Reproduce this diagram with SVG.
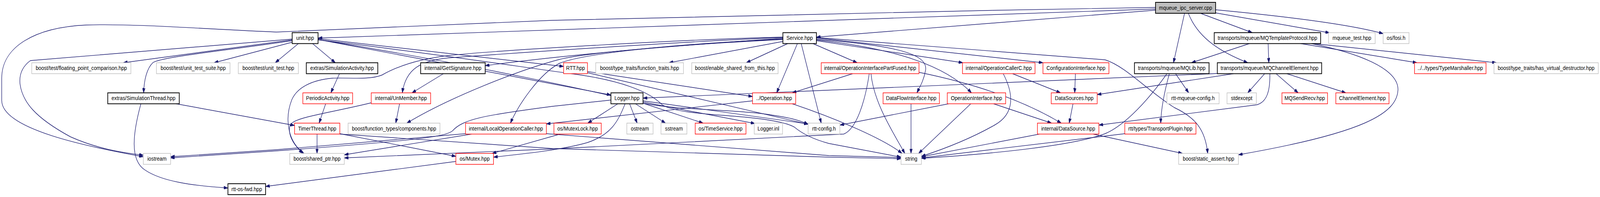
<svg xmlns="http://www.w3.org/2000/svg" width="4633" height="504" viewBox="0 0 4633 504" preserveAspectRatio="none">
<style>
svg{width:100vw;height:100vh}
.e{fill:none;stroke:#191970;stroke-width:1.4;marker-end:url(#ah)}
rect{fill:#fff;stroke-width:1.5}
.k rect{stroke:#000;stroke-width:2}
.g rect{stroke:#bfbfbf}
.r rect{stroke:#ff0000}
.root rect{fill:#bfbfbf;stroke:#000;stroke-width:2}
text{font-family:"Liberation Sans",Arial,Helvetica,sans-serif;font-size:14.5px;text-anchor:middle;fill:#000}
</style>
<defs>
<marker id="ah" markerUnits="userSpaceOnUse" markerWidth="12" markerHeight="8" refX="12" refY="4" orient="auto">
<path d="M0,0 L12,4 L0,8 z" fill="#191970" stroke="#191970" stroke-width="1"/>
</marker>
</defs>
<rect x="0" y="0" width="4633" height="504" style="fill:#fff;stroke:none"/>
<g id="edges">
<path class="e" d="M3346,19 C2700,28 1900,45 1600,52 C1300,63 1000,75 800,82 C600,75 400,60 250,64 C100,70 5,120 5,200 L5,257 C5,330 250,375 415,401"/>
<path class="e" d="M3346,23 L921,97.5"/>
<path class="e" d="M3346,26 L2364,95"/>
<path class="e" d="M3430,34 L3398,160.5"/>
<path class="e" d="M3441,34 C3470,100 3540,135 3613,160.5"/>
<path class="e" d="M3476,34 L3626,83.5"/>
<path class="e" d="M3520,33 L3850,84"/>
<path class="e" d="M3520,25 C3700,40 3900,60 4005,86"/>
<path class="e" d="M846,102 L357,160.5"/>
<path class="e" d="M846,108 L620,160.5"/>
<path class="e" d="M864,111.5 L797,160.5"/>
<path class="e" d="M905,111.5 L971,160.5"/>
<path class="e" d="M846,104 C650,130 470,145 443,160 C425,175 417,205 416,237.5"/>
<path class="e" d="M846,100 L88,155 C65,170 55,190 58,215 C65,260 100,300 204,350 C280,380 350,390 415,397"/>
<path class="e" d="M921,99 L1632,170"/>
<path class="e" d="M921,101 L1769,243"/>
<path class="e" d="M921,102 C1200,130 1500,170 1650,188 C1800,205 1880,235 1916,267 C1950,290 2080,293 2161,300 C2230,306 2280,315 2300,325 C2320,340 2350,355 2400,367 L2609,402"/>
<path class="e" d="M921,101 C1400,170 1750,240 1862,264 C1950,280 2100,280 2200,290 C2270,298 2310,305 2340,318"/>
<path class="e" d="M1701,186 L2340,318"/>
<path class="e" d="M1701,183 L2179,247"/>
<path class="e" d="M1823,265.5 L1845,315"/>
<path class="e" d="M1840,265.5 L1927,315"/>
<path class="e" d="M1789,265.5 L1702,315"/>
<path class="e" d="M1862,264 L2036,315"/>
<path class="e" d="M1862,261 L2186,316"/>
<path class="e" d="M1862,258 L2340,317"/>
<path class="e" d="M1769,256 L1600,272 C1400,295 1340,305 1310,335 C1290,350 1200,360 800,386 L494,404"/>
<path class="e" d="M1810,265.5 C1790,310 1770,345 1700,365 C1620,385 1500,395 1429,402"/>
<path class="e" d="M2517,188.5 C2505,260 2480,330 2443,343 L1600,381 L997,404"/>
<path class="e" d="M918,343 L918,392.5"/>
<path class="e" d="M984,342 L1320,400"/>
<path class="e" d="M984,343 L1600,380 L2400,402 L2609,406"/>
<path class="e" d="M943,265.5 L924,315"/>
<path class="e" d="M983,188.5 L958,237.5"/>
<path class="e" d="M510,265.5 L853,321"/>
<path class="e" d="M408,265.5 C385,340 375,410 420,435 C470,465 560,475 660,481"/>
<path class="e" d="M1320,413 L769,477"/>
<path class="e" d="M1622,343 L1425,392.5"/>
<path class="e" d="M1284,188.5 L1193,237.5"/>
<path class="e" d="M1157,265.5 L1146,315"/>
<path class="e" d="M1075,263 C950,290 850,300 840,320 C832,345 850,370 877,392.5"/>
<path class="e" d="M2267,95 C2000,100 1450,128 1300,142 C1200,152 1140,175 1106,192 C1070,205 1010,198 963,200 C900,205 860,225 845,255 C825,300 830,360 880,392.5"/>
<path class="e" d="M2267,96 C2000,105 1500,135 1300,148 C1220,155 1175,175 1165,237.5"/>
<path class="e" d="M2267,98 C1900,120 1600,145 1405,168"/>
<path class="e" d="M2267,100 C1900,115 1680,140 1620,162 C1560,190 1500,270 1478,315"/>
<path class="e" d="M2267,101 C1950,115 1700,135 1620,152 C1500,180 1300,250 1178,315"/>
<path class="e" d="M2267,106 L1937,160.5"/>
<path class="e" d="M2281,111.5 L2161,160.5"/>
<path class="e" d="M2309,111.5 L2249,237.5"/>
<path class="e" d="M2320,111.5 L2378,315"/>
<path class="e" d="M2354,111.5 L2482,160.5"/>
<path class="e" d="M2364,100 C2550,115 2690,130 2680,180 C2675,205 2665,220 2655,237.5"/>
<path class="e" d="M2364,102 C2600,125 2740,170 2813,237.5"/>
<path class="e" d="M2364,104 L2788,160.5"/>
<path class="e" d="M2364,97 L3020,160.5"/>
<path class="e" d="M2364,96 L3200,153 C3260,170 3320,230 3400,275 C3460,300 3490,330 3497,392.5"/>
<path class="e" d="M1366,343 L997,396"/>
<path class="e" d="M1348,342 L800,383 L494,401"/>
<path class="e" d="M1582,342 L2400,398 L2609,403"/>
<path class="e" d="M2179,258 L1582,317"/>
<path class="e" d="M2294,265.5 C2400,297 2550,350 2612,392.5"/>
<path class="e" d="M2469,188.5 L2294,237.5"/>
<path class="e" d="M2522,188.5 C2530,260 2580,330 2620,392.5"/>
<path class="e" d="M2661,185 C2800,210 2950,250 3073,315"/>
<path class="e" d="M2638,265.5 L2638,392.5"/>
<path class="e" d="M2747,265.5 L2432,320"/>
<path class="e" d="M2811,265.5 L2660,392.5"/>
<path class="e" d="M2877,265.5 L3045,315"/>
<path class="e" d="M2932,188.5 L3071,237.5"/>
<path class="e" d="M2905,188.5 C2935,240 2940,290 2880,320 C2800,360 2720,385 2668,400"/>
<path class="e" d="M3114,188.5 L3112,237.5"/>
<path class="e" d="M3107,265.5 L3096,315"/>
<path class="e" d="M3010,343 L2668,401"/>
<path class="e" d="M3165,343 L3424,392.5"/>
<path class="e" d="M3525,188 L1862,251"/>
<path class="e" d="M3572,188.5 L3177,242"/>
<path class="e" d="M3677,188.5 C3678,230 3670,260 3640,268 L3182,320"/>
<path class="e" d="M3662,188.5 L3613,237.5"/>
<path class="e" d="M3695,188.5 L3759,237.5"/>
<path class="e" d="M3726,188.5 L3897,237.5"/>
<path class="e" d="M3404,188.5 L3442,237.5"/>
<path class="e" d="M3386,188.5 C3370,240 3362,280 3361,315"/>
<path class="e" d="M3379,188.5 C3330,250 3260,320 3200,342 C3100,375 2850,395 2668,405"/>
<path class="e" d="M3257,342 L2668,404"/>
<path class="e" d="M3618,111.5 L3450,160.5"/>
<path class="e" d="M3672,111.5 L3674,160.5"/>
<path class="e" d="M3766,111.5 L4103,160.5"/>
<path class="e" d="M3802,111.5 L4333,160.5"/>
<path class="e" d="M3797,111.5 C3930,135 4050,175 4048,230 C4045,290 3950,340 3586,396"/>
</g>
<g id="node-mqueue_ipc_server" class="root"><rect x="3346" y="6" width="174" height="28"/><text x="3433" y="25">mqueue_ipc_server.cpp</text></g>
<g id="node-unit" class="k"><rect x="846" y="83.5" width="75" height="28"/><text x="883.5" y="102.5">unit.hpp</text></g>
<g id="node-Service" class="k"><rect x="2267" y="83.5" width="97" height="28"/><text x="2315.5" y="102.5">Service.hpp</text></g>
<g id="node-MQTemplateProtocol" class="k"><rect x="3516" y="83.5" width="308" height="28"/><text x="3670" y="102.5">transports/mqueue/MQTemplateProtocol.hpp</text></g>
<g id="node-mqueue_test" class="g"><rect x="3847" y="83.5" width="135" height="28"/><text x="3914.5" y="102.5">mqueue_test.hpp</text></g>
<g id="node-fosi" class="g"><rect x="4005" y="83.5" width="75" height="28"/><text x="4042.5" y="102.5">os/fosi.h</text></g>
<g id="node-floating" class="g"><rect x="92" y="160.5" width="287" height="28"/><text x="235.5" y="179.5">boost/test/floating_point_comparison.hpp</text></g>
<g id="node-unit_test_suite" class="g"><rect x="453" y="160.5" width="213" height="28"/><text x="559.5" y="179.5">boost/test/unit_test_suite.hpp</text></g>
<g id="node-unit_test" class="g"><rect x="690" y="160.5" width="174" height="28"/><text x="777" y="179.5">boost/test/unit_test.hpp</text></g>
<g id="node-SimulationActivity" class="k"><rect x="887" y="160.5" width="207" height="28"/><text x="990.5" y="179.5">extras/SimulationActivity.hpp</text></g>
<g id="node-GetSignature" class="k"><rect x="1218" y="160.5" width="187" height="28"/><text x="1311.5" y="179.5">internal/GetSignature.hpp</text></g>
<g id="node-RTT" class="r"><rect x="1632" y="160.5" width="69" height="28"/><text x="1666.5" y="179.5">RTT.hpp</text></g>
<g id="node-function_traits" class="g"><rect x="1725" y="160.5" width="254" height="28"/><text x="1852" y="179.5">boost/type_traits/function_traits.hpp</text></g>
<g id="node-enable_shared" class="g"><rect x="2003" y="160.5" width="250" height="28"/><text x="2128" y="179.5">boost/enable_shared_from_this.hpp</text></g>
<g id="node-OIPF" class="r"><rect x="2378" y="160.5" width="283" height="28"/><text x="2519.5" y="179.5">internal/OperationInterfacePartFused.hpp</text></g>
<g id="node-OperationCallerC" class="r"><rect x="2787" y="160.5" width="210" height="28"/><text x="2892" y="179.5">internal/OperationCallerC.hpp</text></g>
<g id="node-ConfigurationInterface" class="r"><rect x="3020" y="160.5" width="191" height="28"/><text x="3115.5" y="179.5">ConfigurationInterface.hpp</text></g>
<g id="node-MQLib" class="k"><rect x="3285" y="160.5" width="216" height="28"/><text x="3393" y="179.5">transports/mqueue/MQLib.hpp</text></g>
<g id="node-MQChannelElement" class="k"><rect x="3525" y="160.5" width="302" height="28"/><text x="3676" y="179.5">transports/mqueue/MQChannelElement.hpp</text></g>
<g id="node-TypeMarshaller" class="r"><rect x="4096" y="160.5" width="207" height="28"/><text x="4199.5" y="179.5">../../types/TypeMarshaller.hpp</text></g>
<g id="node-has_virtual_destructor" class="g"><rect x="4326" y="160.5" width="302" height="28"/><text x="4477" y="179.5">boost/type_traits/has_virtual_destructor.hpp</text></g>
<g id="node-SimulationThread" class="k"><rect x="312" y="237.5" width="207" height="28"/><text x="415.5" y="256.5">extras/SimulationThread.hpp</text></g>
<g id="node-PeriodicActivity" class="r"><rect x="877" y="237.5" width="144" height="28"/><text x="949" y="256.5">PeriodicActivity.hpp</text></g>
<g id="node-UnMember" class="r"><rect x="1075" y="237.5" width="172" height="28"/><text x="1161" y="256.5">internal/UnMember.hpp</text></g>
<g id="node-Logger" class="k"><rect x="1769" y="237.5" width="93" height="28"/><text x="1815.5" y="256.5">Logger.hpp</text></g>
<g id="node-Operation" class="r"><rect x="2179" y="237.5" width="125" height="28"/><text x="2241.5" y="256.5">../Operation.hpp</text></g>
<g id="node-DataFlowInterface" class="r"><rect x="2557" y="237.5" width="163" height="28"/><text x="2638.5" y="256.5">DataFlowInterface.hpp</text></g>
<g id="node-OperationInterface" class="r"><rect x="2743" y="237.5" width="169" height="28"/><text x="2827.5" y="256.5">OperationInterface.hpp</text></g>
<g id="node-DataSources" class="r"><rect x="3044" y="237.5" width="133" height="28"/><text x="3110.5" y="256.5">DataSources.hpp</text></g>
<g id="node-rtt-mqueue-config" class="g"><rect x="3379" y="237.5" width="151" height="28"/><text x="3454.5" y="256.5">rtt-mqueue-config.h</text></g>
<g id="node-stdexcept" class="g"><rect x="3553" y="237.5" width="85" height="28"/><text x="3595.5" y="256.5">stdexcept</text></g>
<g id="node-MQSendRecv" class="r"><rect x="3712" y="237.5" width="132" height="28"/><text x="3778" y="256.5">MQSendRecv.hpp</text></g>
<g id="node-ChannelElement" class="r"><rect x="3868" y="237.5" width="154" height="28"/><text x="3945" y="256.5">ChannelElement.hpp</text></g>
<g id="node-TimerThread" class="r"><rect x="853" y="315" width="131" height="28"/><text x="918.5" y="334">TimerThread.hpp</text></g>
<g id="node-components" class="g"><rect x="1008" y="315" width="266" height="28"/><text x="1141" y="334">boost/function_types/components.hpp</text></g>
<g id="node-LocalOperationCaller" class="r"><rect x="1348" y="315" width="234" height="28"/><text x="1465" y="334">internal/LocalOperationCaller.hpp</text></g>
<g id="node-MutexLock" class="r"><rect x="1604" y="315" width="137" height="28"/><text x="1672.5" y="334">os/MutexLock.hpp</text></g>
<g id="node-ostream" class="g"><rect x="1815" y="315" width="76" height="28"/><text x="1853" y="334">ostream</text></g>
<g id="node-sstream" class="g"><rect x="1914" y="315" width="75" height="28"/><text x="1951.5" y="334">sstream</text></g>
<g id="node-TimeService" class="r"><rect x="2013" y="315" width="147" height="28"/><text x="2086.5" y="334">os/TimeService.hpp</text></g>
<g id="node-Logger_inl" class="g"><rect x="2184" y="315" width="82" height="28"/><text x="2225" y="334">Logger.inl</text></g>
<g id="node-rtt-config" class="g"><rect x="2340" y="315" width="92" height="28"/><text x="2386" y="334">rtt-config.h</text></g>
<g id="node-DataSource" class="r"><rect x="3004" y="315" width="178" height="28"/><text x="3093" y="334">internal/DataSource.hpp</text></g>
<g id="node-TransportPlugin" class="r"><rect x="3257" y="315" width="206" height="28"/><text x="3360" y="334">rtt/types/TransportPlugin.hpp</text></g>
<g id="node-iostream" class="g"><rect x="415" y="392.5" width="79" height="28"/><text x="454.5" y="411.5">iostream</text></g>
<g id="node-shared_ptr" class="g"><rect x="839" y="392.5" width="158" height="28"/><text x="918" y="411.5">boost/shared_ptr.hpp</text></g>
<g id="node-Mutex" class="r"><rect x="1320" y="392.5" width="109" height="28"/><text x="1374.5" y="411.5">os/Mutex.hpp</text></g>
<g id="node-string" class="g"><rect x="2609" y="392.5" width="59" height="28"/><text x="2638.5" y="411.5">string</text></g>
<g id="node-static_assert" class="g"><rect x="3413" y="392.5" width="173" height="28"/><text x="3499.5" y="411.5">boost/static_assert.hpp</text></g>
<g id="node-rtt-os-fwd" class="k"><rect x="660" y="470" width="109" height="28"/><text x="714.5" y="489">rtt-os-fwd.hpp</text></g>
</svg>
